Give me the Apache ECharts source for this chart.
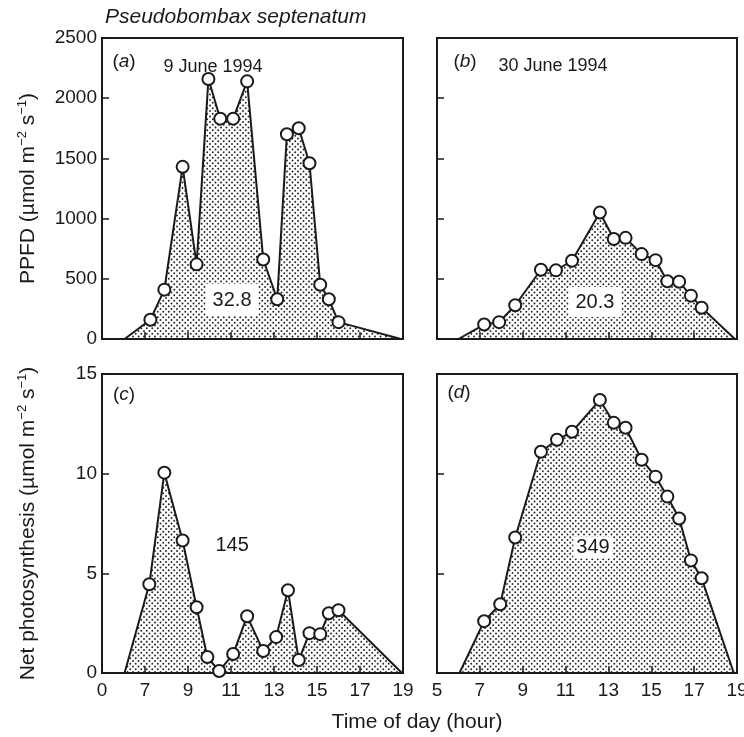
<!DOCTYPE html>
<html>
<head>
<meta charset="utf-8">
<script src="https://cdn.jsdelivr.net/npm/echarts@6/dist/echarts.min.js"></script>
<style>
  html, body { margin: 0; padding: 0; background: #fff; }
  #chart { width: 744px; height: 737px; }
</style>
</head>
<body>
<div id="chart"></div>
<script>
// panel (a) 9 June 1994, PPFD
const hoursA = [6.05, 7.25, 7.9, 8.75, 9.4, 9.95, 10.5, 11.1, 11.75, 12.5, 13.15, 13.6, 14.15, 14.65, 15.15, 15.55, 16.0, 18.9]
const ppfdA  = [0, 160, 410, 1430, 620, 2160, 1830, 1830, 2140, 660, 330, 1700, 1750, 1460, 450, 330, 140, 0]
// panel (b) 30 June 1994, PPFD
const hoursB = [6.0, 7.2, 7.9, 8.65, 9.85, 10.55, 11.3, 12.6, 13.25, 13.8, 14.55, 15.2, 15.75, 16.3, 16.85, 17.35, 18.9]
const ppfdB  = [0, 120, 140, 280, 575, 570, 650, 1050, 830, 840, 705, 655, 480, 475, 360, 260, 0]
// panel (c) net photosynthesis, 9 June
const hoursC = [6.05, 7.2, 7.9, 8.75, 9.4, 9.9, 10.45, 11.1, 11.75, 12.5, 13.1, 13.65, 14.15, 14.65, 15.15, 15.55, 16.0, 18.95]
const photoC = [0, 4.45, 10.05, 6.65, 3.3, 0.8, 0.1, 0.95, 2.85, 1.1, 1.8, 4.15, 0.65, 2.0, 1.95, 3.0, 3.15, 0]
// panel (d) net photosynthesis, 30 June
const hoursD = [6.05, 7.2, 7.95, 8.65, 9.85, 10.6, 11.3, 12.6, 13.25, 13.8, 14.55, 15.2, 15.75, 16.3, 16.85, 17.35, 18.85]
const photoD = [0, 2.6, 3.45, 6.8, 11.1, 11.7, 12.1, 13.7, 12.55, 12.3, 10.7, 9.85, 8.85, 7.75, 5.65, 4.75, 0]

// integrated totals written inside each area: [text, hour, value]
const totals = [
  ['32.8', 11.05, 324],
  ['20.3', 12.37, 307],
  ['145', 11.05, 6.42],
  ['349', 12.28, 6.3],
]

const INK = '#1a1a1a'
const FONT = '"Liberation Sans", Arial, sans-serif'

// dotted fill like the printed screen
const tile = document.createElement('canvas')
tile.width = 11; tile.height = 11
const tc = tile.getContext('2d')
tc.fillStyle = '#222'
;[[1,1],[6.5,1],[3.75,3.75],[9.25,3.75],[1,6.5],[6.5,6.5],[3.75,9.25],[9.25,9.25]].forEach(([x, y]) => {
  tc.beginPath(); tc.arc(x, y, 0.95, 0, Math.PI * 2); tc.fill()
})

const grids = [
  { left: 102, top: 38,  width: 301, height: 301 },
  { left: 437, top: 38,  width: 300, height: 301 },
  { left: 102, top: 374, width: 301, height: 299 },
  { left: 437, top: 374, width: 300, height: 299 },
].map(g => ({
  ...g, show: true, borderColor: INK, borderWidth: 2, backgroundColor: 'transparent',
  containLabel: false, outerBoundsMode: 'none',
}))

const mkTick = () => ({ show: true, inside: true, length: 7, lineStyle: { color: INK, width: 1.5 } })
const mkLine = () => ({ show: true, onZero: false, lineStyle: { color: INK, width: 2 } })

const xAxes = [0, 1, 2, 3].map(i => ({
  type: 'value', gridIndex: i, min: 5, max: 19, interval: 2,
  axisLine: mkLine(), axisTick: mkTick(), splitLine: { show: false },
  axisLabel: {
    show: i >= 2, margin: 8, fontSize: 19, color: INK, fontFamily: FONT,
    showMinLabel: true, showMaxLabel: true, hideOverlap: false,
    formatter: v => (i === 2 && v === 5) ? '0' : String(v),
  },
}))

const supRich = {
  sup: { fontSize: 13, verticalAlign: 'top', lineHeight: 13, fontFamily: FONT, color: INK },
}

const yAxes = [0, 1, 2, 3].map(i => {
  const top = i < 2
  const ax = {
    type: 'value', gridIndex: i, min: 0, max: top ? 2500 : 15, interval: top ? 500 : 5,
    axisLine: mkLine(), axisTick: mkTick(), splitLine: { show: false },
    axisLabel: {
      show: i % 2 === 0, margin: 5, fontSize: 19, color: INK, fontFamily: FONT,
      showMinLabel: true, showMaxLabel: true, formatter: v => String(v),
    },
  }
  if (i % 2 === 0) {
    ax.name = (top ? 'PPFD (µmol m{sup|−2} s{sup|−1})' : 'Net photosynthesis (µmol m{sup|−2} s{sup|−1})')
    ax.nameLocation = 'middle'
    ax.nameGap = 62
    ax.nameTextStyle = { fontSize: 21, color: INK, fontFamily: FONT, lineHeight: 24, rich: supRich }
  }
  return ax
})

function panelSeries(i, hours, vals, total, boxPad) {
  const data = hours.map((h, k) => {
    const item = { value: [h, vals[k]] }
    if (k === 0 || k === hours.length - 1) item.symbol = 'none'
    return item
  })
  return {
    type: 'line', xAxisIndex: i, yAxisIndex: i, data,
    showAllSymbol: true, symbol: 'circle', symbolSize: 12,
    itemStyle: { color: '#fff', borderColor: INK, borderWidth: 2 },
    lineStyle: { color: INK, width: 2 },
    areaStyle: { color: { image: tile, repeat: 'repeat' }, opacity: 1 },
    silent: true, animation: false,
    markPoint: {
      symbol: 'rect', symbolSize: 1, itemStyle: { color: 'rgba(0,0,0,0)' },
      data: [{ coord: [total[1], total[2]], name: total[0] }],
      label: {
        show: true, position: 'inside', formatter: total[0],
        fontSize: 20, color: INK, fontFamily: FONT,
        backgroundColor: boxPad ? '#fff' : 'transparent', padding: boxPad || 0,
      },
    },
  }
}

const txt = (x, y, text, extra) => ({
  type: 'text', x, y,
  style: { text, fontSize: 18, fill: INK, fontFamily: FONT, align: 'center', verticalAlign: 'middle', ...extra },
})
const letter = (x, y, ch) => ({
  type: 'text', x, y,
  style: {
    text: '({i|' + ch + '})', fontSize: 19, fill: INK, fontFamily: FONT,
    align: 'center', verticalAlign: 'middle',
    rich: { i: { fontStyle: 'italic', fontSize: 19, fontFamily: FONT, fill: INK } },
  },
})

const chart = echarts.init(document.getElementById('chart'), null, { renderer: 'canvas' })
chart.setOption({
  backgroundColor: '#fff',
  animation: false,
  grid: grids,
  xAxis: xAxes,
  yAxis: yAxes,
  series: [
    panelSeries(0, hoursA, ppfdA, totals[0], [6, 7]),
    panelSeries(1, hoursB, ppfdB, totals[1], [5, 7]),
    panelSeries(2, hoursC, photoC, totals[2], null),
    panelSeries(3, hoursD, photoD, totals[3], [1, 3]),
  ],
  graphic: [
    txt(105, 17, 'Pseudobombax septenatum', { fontStyle: 'italic', fontSize: 21, align: 'left' }),
    letter(124, 62, 'a'),
    txt(213, 67, '9 June 1994'),
    letter(465, 62, 'b'),
    txt(553, 66, '30 June 1994'),
    letter(124, 395, 'c'),
    letter(459, 393, 'd'),
    txt(417, 722, 'Time of day (hour)', { fontSize: 21 }),
  ],
})
</script>
</body>
</html>
